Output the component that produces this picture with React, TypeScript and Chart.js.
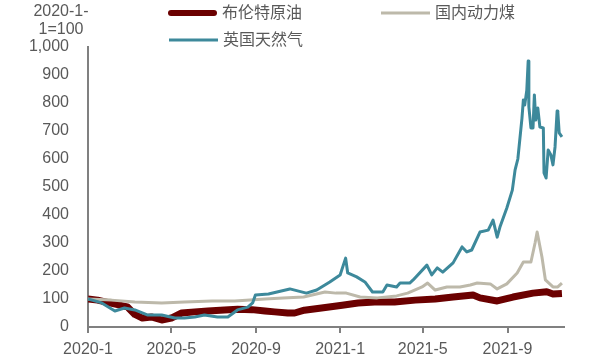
import React, { useEffect, useRef } from "react";
import { Chart, registerables } from "chart.js";

Chart.register(...registerables);

// x = days since 2020-01-01
const tickDays = [0, 121, 244, 366, 486, 609];
const tickLabels = ["2020-1", "2020-5", "2020-9", "2021-1", "2021-5", "2021-9"];
const yTicks = [0, 100, 200, 300, 400, 500, 600, 700, 800, 900, 1000];

const seriesNames = ["布伦特原油", "国内动力煤", "英国天然气"];

const brentDays = [0, 14, 28, 43, 57, 68, 79, 92, 107, 121, 136, 155, 174, 198, 217, 238, 257, 271, 290, 300, 314, 339, 369, 392, 416, 445, 475, 504, 530, 559, 569, 594, 617, 646, 666, 675, 688];
const brentValues = [100, 96, 88, 80, 72, 45, 32, 36, 25, 32, 50, 54, 57, 61, 63, 62, 57, 54, 50, 50, 60, 68, 78, 86, 89, 89, 96, 100, 107, 114, 104, 93, 107, 121, 126, 118, 120];

const coalDays = [0, 34, 68, 107, 140, 180, 213, 235, 257, 283, 313, 344, 360, 375, 395, 420, 448, 464, 485, 493, 504, 521, 540, 555, 565, 584, 594, 608, 623, 632, 643, 649, 652, 659, 664, 675, 682, 688];
const coalValues = [100, 96, 89, 86, 89, 93, 93, 96, 100, 104, 107, 125, 121, 121, 107, 104, 111, 121, 143, 157, 132, 143, 143, 150, 157, 154, 136, 154, 193, 232, 232, 300, 339, 250, 168, 143, 143, 157];

const gasDays = [0, 20, 39, 53, 68, 86, 107, 126, 140, 155, 169, 188, 203, 217, 232, 239, 243, 262, 293, 317, 332, 351, 366, 374, 377, 390, 402, 413, 428, 434, 448, 453, 467, 472, 492, 499, 507, 515, 530, 543, 550, 557, 569, 581, 588, 594, 598, 608, 616, 620, 624, 630, 632, 634, 637, 639, 640, 643, 646, 648, 650, 653, 656, 661, 662, 665, 668, 672, 675, 678, 681, 682, 684, 688];
const gasValues = [100, 86, 57, 68, 61, 43, 43, 32, 32, 36, 43, 36, 36, 61, 71, 86, 114, 118, 136, 121, 132, 161, 186, 246, 193, 179, 161, 125, 125, 150, 143, 157, 157, 168, 221, 186, 211, 196, 229, 286, 268, 275, 339, 346, 382, 321, 357, 425, 489, 561, 600, 746, 811, 793, 846, 950, 786, 711, 711, 829, 739, 782, 714, 711, 550, 532, 632, 614, 579, 643, 771, 768, 693, 679];

const COLORS = ["#6B0000", "#BDB9AA", "#3D899B"];
const WIDTHS = [7, 3, 3];
const TEXT = "#595959";
const AXIS = "#808080";
const FONT = "'Liberation Sans', Arial, 'Noto Sans CJK SC', sans-serif";

const zip = (xs: number[], ys: number[]) => xs.map((x, i) => ({ x, y: ys[i] }));

const legendPlugin = {
  id: "customLegend",
  afterDraw(chart: any) {
    const ctx = chart.ctx as CanvasRenderingContext2D;
    ctx.save();
    ctx.font = `16px ${FONT}`;
    ctx.fillStyle = TEXT;
    ctx.textBaseline = "middle";
    ctx.textAlign = "center";
    ctx.fillText("2020-1-", 61, 12);
    ctx.fillText("1=100", 61, 30);
    const items = [
      { x: 168, y: 13, i: 0 },
      { x: 381, y: 13, i: 1 },
      { x: 169, y: 40, i: 2 },
    ];
    ctx.textAlign = "left";
    for (const it of items) {
      ctx.beginPath();
      ctx.strokeStyle = COLORS[it.i];
      ctx.lineWidth = it.i === 0 ? 6 : 3;
      ctx.lineCap = it.i === 0 ? "round" : "butt";
      ctx.moveTo(it.x + (it.i === 0 ? 3 : 0), it.y);
      ctx.lineTo(it.x + 49 - (it.i === 0 ? 3 : 0), it.y);
      ctx.stroke();
      ctx.fillStyle = TEXT;
      ctx.fillText(seriesNames[it.i], it.x + 54, it.y + 1);
    }
    ctx.restore();
  },
};

export default function App() {
  const ref = useRef<HTMLCanvasElement>(null);
  useEffect(() => {
    document.body.style.margin = "0";
    if (!ref.current) return;
    const chart = new Chart(ref.current, {
      type: "line",
      data: {
        datasets: [
          { label: seriesNames[0], data: zip(brentDays, brentValues) },
          { label: seriesNames[1], data: zip(coalDays, coalValues) },
          { label: seriesNames[2], data: zip(gasDays, gasValues) },
        ].map((d, i) => ({
          ...d,
          borderColor: COLORS[i],
          backgroundColor: COLORS[i],
          borderWidth: WIDTHS[i],
          pointRadius: 0,
          tension: 0,
          borderJoinStyle: "round" as const,
          order: i === 0 ? 3 : i === 1 ? 2 : 1,
        })),
      },
      options: {
        animation: false,
        responsive: false,
        maintainAspectRatio: false,
        layout: { padding: { left: 0, top: 47, right: 37, bottom: 0 } },
        plugins: { legend: { display: false }, tooltip: { enabled: false } },
        scales: {
          x: {
            type: "linear",
            min: 0,
            max: 691,
            afterBuildTicks: (scale: any) => {
              scale.ticks = tickDays.map((v) => ({ value: v }));
            },
            afterFit: (scale: any) => {
              scale.height = 35;
            },
            ticks: {
              autoSkip: false,
              maxRotation: 0,
              padding: 7,
              color: TEXT,
              font: { size: 16, family: FONT },
              callback: (v: any) => {
                const idx = tickDays.indexOf(Number(v));
                return idx >= 0 ? tickLabels[idx] : "";
              },
            },
            grid: {
              display: true,
              drawOnChartArea: false,
              drawTicks: true,
              tickLength: 6,
              color: AXIS,
              lineWidth: 2,
            },
            border: { display: true, color: AXIS, width: 2 },
          },
          y: {
            type: "linear",
            min: 0,
            max: 1000,
            afterBuildTicks: (scale: any) => {
              scale.ticks = yTicks.map((v) => ({ value: v }));
            },
            afterFit: (scale: any) => {
              scale.width = 88;
            },
            ticks: {
              padding: 19,
              color: TEXT,
              font: { size: 16, family: FONT },
              callback: (v: any) => Number(v).toLocaleString("en-US"),
            },
            grid: { display: true, drawOnChartArea: false, drawTicks: false, color: AXIS, lineWidth: 2 },
            border: { display: true, color: AXIS, width: 2 },
          },
        },
      },
      plugins: [legendPlugin],
    });
    return () => chart.destroy();
  }, []);
  return (
    <div style={{ position: "absolute", left: 0, top: 0, width: 601, height: 362 }}>
      <canvas ref={ref} width={601} height={362} />
    </div>
  );
}
